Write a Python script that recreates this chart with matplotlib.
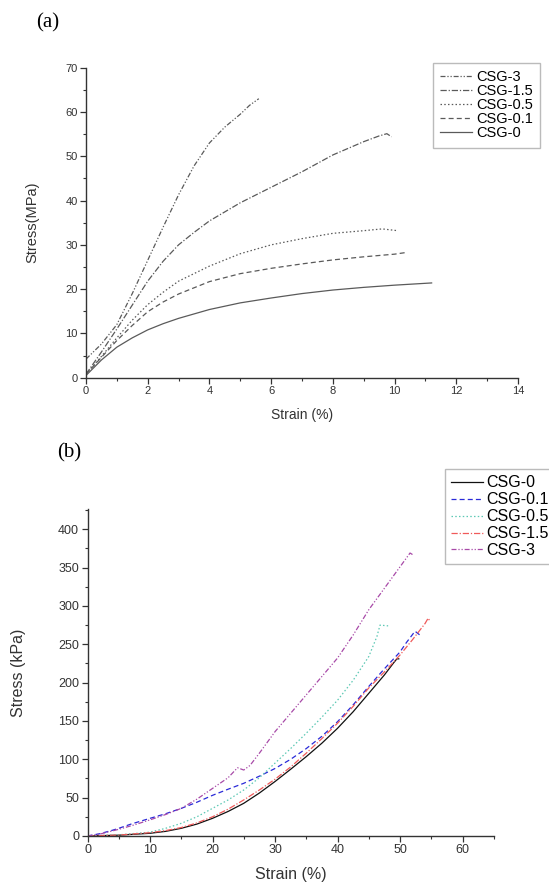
"""Two stacked stress-strain panels: (a) tensile, MPa; (b) compressive, kPa."""

import matplotlib

matplotlib.use("Agg")
import matplotlib.pyplot as plt
from matplotlib.ticker import MultipleLocator

plt.rcParams["font.family"] = ["Liberation Sans", "DejaVu Sans"]

# ---- panel (a): tensile curves, strain (%) vs stress (MPa)
a_labels = ["CSG-3", "CSG-1.5", "CSG-0.5", "CSG-0.1", "CSG-0"]
a_x_csg3 = [0.0, 0.5, 1.0, 1.5, 2.0, 2.5, 3.0, 3.5, 4.0, 4.5, 5.0, 5.3, 5.6]
a_y_csg3 = [4.2, 7.6, 12.0, 19.0, 26.5, 34.0, 41.3, 47.8, 53.0, 56.6, 59.5, 61.5, 63.0]
a_x_csg15 = [0.0, 0.5, 1.0, 1.5, 2.0, 2.5, 3.0, 3.5, 4.0, 5.0, 6.0, 7.0, 8.0, 9.0, 9.5, 9.75, 9.9]
a_y_csg15 = [0.8, 5.8, 11.0, 16.4, 21.8, 26.3, 30.0, 32.8, 35.4, 39.5, 43.0, 46.5, 50.3, 53.3, 54.6, 55.1, 54.4]
a_x_csg05 = [0.0, 0.5, 1.0, 1.5, 2.0, 2.5, 3.0, 4.0, 5.0, 6.0, 7.0, 8.0, 9.0, 9.6, 10.1]
a_y_csg05 = [0.8, 4.8, 9.0, 13.0, 16.5, 19.3, 21.8, 25.2, 28.0, 30.0, 31.4, 32.6, 33.2, 33.6, 33.2]
a_x_csg01 = [0.0, 0.5, 1.0, 1.5, 2.0, 2.5, 3.0, 4.0, 5.0, 6.0, 7.0, 8.0, 9.0, 10.0, 10.4]
a_y_csg01 = [0.8, 4.6, 8.4, 11.8, 14.9, 17.1, 18.9, 21.7, 23.5, 24.7, 25.7, 26.6, 27.3, 27.9, 28.3]
a_x_csg0 = [0.0, 0.5, 1.0, 1.5, 2.0, 2.5, 3.0, 4.0, 5.0, 6.0, 7.0, 8.0, 9.0, 10.0, 11.2]
a_y_csg0 = [0.5, 4.0, 6.9, 9.0, 10.8, 12.2, 13.4, 15.4, 16.9, 18.0, 19.0, 19.8, 20.4, 20.9, 21.4]

# ---- panel (b): compressive curves, strain (%) vs stress (kPa)
b_labels = ["CSG-0", "CSG-0.1", "CSG-0.5", "CSG-1.5", "CSG-3"]
b_x_csg0 = [0, 5, 10, 12.5, 15, 17.5, 20, 22.5, 25, 27.5, 30, 32.5, 35, 37.5, 40, 42.5, 45,
            47.5, 49, 49.5, 49.8]
b_y_csg0 = [0, 1, 3.5, 6, 10, 15.5, 23, 32, 42.6, 56, 71, 87, 103.5, 121, 140.4, 162, 186,
            210, 226, 231, 231]
b_x_csg01 = [0, 2, 4, 5, 7, 10, 12.5, 15, 17.5, 20, 22.5, 25, 27.5, 30, 32.5, 35, 37.5, 40,
             42.5, 45, 47.5, 50, 51, 52.4, 53.5]
b_y_csg01 = [0, 3, 7.5, 10, 15.6, 23, 29, 36, 44, 53, 61, 68.7, 78, 88, 100, 114, 130, 149,
             171, 195, 218, 240, 252, 267, 260]
b_x_csg05 = [0, 5, 10, 12.5, 15, 17.5, 20, 22.5, 25, 27.5, 30, 32.5, 35, 37.5, 40, 42.5, 45,
             46.3, 46.8, 48.1]
b_y_csg05 = [0, 1.5, 5, 10, 16.5, 25, 36, 47, 60, 76, 95, 114, 134, 155, 177, 203, 234,
             260, 275, 274]
b_x_csg15 = [0, 5, 10, 12.5, 15, 17.5, 20, 22.5, 25, 27.5, 30, 32.5, 35, 37.5, 40, 42.5, 45,
             47.5, 50, 52, 54, 54.5, 54.8]
b_y_csg15 = [0, 1.2, 4.3, 7, 11, 17, 25, 35, 47, 60, 74, 90, 108, 127, 147, 169, 193, 214,
             236, 256, 277, 284, 280]
b_x_csg3 = [0, 2, 5, 7.5, 10, 12.5, 15, 17.5, 20, 22.5, 24, 25, 26, 27.5, 30, 32.5, 35, 37.5,
            40, 42.5, 45, 47.5, 50, 51.6, 52]
b_y_csg3 = [0, 2.5, 8.7, 14.5, 21, 28, 36, 48, 62, 76, 89, 86, 92, 108, 136, 160, 184, 208,
            232, 262, 295, 323, 351, 369, 367]

fig = plt.figure(figsize=(5.49, 8.85), dpi=100)

# panel (a)
ax1 = fig.add_axes([0.1566, 0.5732, 0.787, 0.3503])
grey = "#5a5a5a"
ax1.plot(a_x_csg3, a_y_csg3, color=grey, lw=0.9, ls=(0, (4, 1.5, 1, 1.5, 1, 1.5)), label=a_labels[0])
ax1.plot(a_x_csg15, a_y_csg15, color=grey, lw=0.9, ls=(0, (5, 1.5, 1, 1.5)), label=a_labels[1])
ax1.plot(a_x_csg05, a_y_csg05, color=grey, lw=0.9, ls=(0, (1.2, 1.8)), label=a_labels[2])
ax1.plot(a_x_csg01, a_y_csg01, color=grey, lw=0.9, ls=(0, (4, 2.5)), label=a_labels[3])
ax1.plot(a_x_csg0, a_y_csg0, color=grey, lw=0.9, ls="-", label=a_labels[4])
ax1.set_xlim(0, 14)
ax1.set_ylim(0, 70)
ax1.xaxis.set_major_locator(MultipleLocator(2))
ax1.xaxis.set_minor_locator(MultipleLocator(1))
ax1.yaxis.set_major_locator(MultipleLocator(10))
ax1.yaxis.set_minor_locator(MultipleLocator(5))
ax1.set_xlabel("Strain (%)", fontsize=10, color="#333333")
ax1.set_ylabel("Stress(MPa)", fontsize=10.5, color="#333333")
ax1.xaxis.set_label_coords(0.5, -0.098)
ax1.yaxis.set_label_coords(-0.109, 0.5)
ax1.legend(loc="upper left", bbox_to_anchor=(433 / 549, 1 - 63 / 885), bbox_transform=fig.transFigure,
           fontsize=10.5, frameon=True, fancybox=False, edgecolor="#aaaaaa", handlelength=2.2,
           handletextpad=0.25, labelspacing=0.0, borderpad=0.5, borderaxespad=0)
fig.text(36 / 549, 1 - 23 / 885, "(a)", family="Liberation Serif", fontsize=15, va="center")

# panel (b)
ax2 = fig.add_axes([0.1594, 0.0554, 0.740, 0.3691])
ax2.plot(b_x_csg0, b_y_csg0, color="#111111", lw=0.9, ls="-", label=b_labels[0])
ax2.plot(b_x_csg01, b_y_csg01, color="#2a2ad8", lw=0.9, ls=(0, (4, 2.5)), label=b_labels[1])
ax2.plot(b_x_csg05, b_y_csg05, color="#5cc8b4", lw=0.9, ls=(0, (1.2, 1.8)), label=b_labels[2])
ax2.plot(b_x_csg15, b_y_csg15, color="#f05a5a", lw=0.9, ls=(0, (5, 1.5, 1, 1.5)), label=b_labels[3])
ax2.plot(b_x_csg3, b_y_csg3, color="#a84aa8", lw=0.9, ls=(0, (4, 1.5, 1, 1.5, 1, 1.5)), label=b_labels[4])
ax2.set_xlim(0, 65)
ax2.set_ylim(0, 426)
ax2.xaxis.set_major_locator(MultipleLocator(10))
ax2.xaxis.set_minor_locator(MultipleLocator(5))
ax2.yaxis.set_major_locator(MultipleLocator(50))
ax2.yaxis.set_minor_locator(MultipleLocator(25))
ax2.set_xlabel("Strain (%)", fontsize=11.5, color="#333333")
ax2.set_ylabel("Stress (kPa)", fontsize=11.5, color="#333333")
ax2.xaxis.set_label_coords(0.5, -0.095)
ax2.yaxis.set_label_coords(-0.151, 0.5)
ax2.legend(loc="upper left", bbox_to_anchor=(445 / 549, 1 - 469 / 885), bbox_transform=fig.transFigure,
           fontsize=11.5, frameon=True, fancybox=False, edgecolor="#aaaaaa", handlelength=2.0,
           handletextpad=0.2, labelspacing=0.12, borderpad=0.4, borderaxespad=0)
fig.text(57 / 549, 1 - 453 / 885, "(b)", family="Liberation Serif", fontsize=15, va="center")

for ax, tsize in ((ax1, 8), (ax2, 9)):
    for side in ("top", "right"):
        ax.spines[side].set_visible(False)
    for side in ("left", "bottom"):
        ax.spines[side].set_linewidth(1.0)
        ax.spines[side].set_color("#333333")
    ax.tick_params(which="major", direction="out", length=4, width=0.9, labelsize=tsize,
                   colors="#333333", pad=2)
    ax.tick_params(which="minor", direction="out", length=2.5, width=0.8, colors="#333333")

fig.savefig("out.png", dpi=100)
